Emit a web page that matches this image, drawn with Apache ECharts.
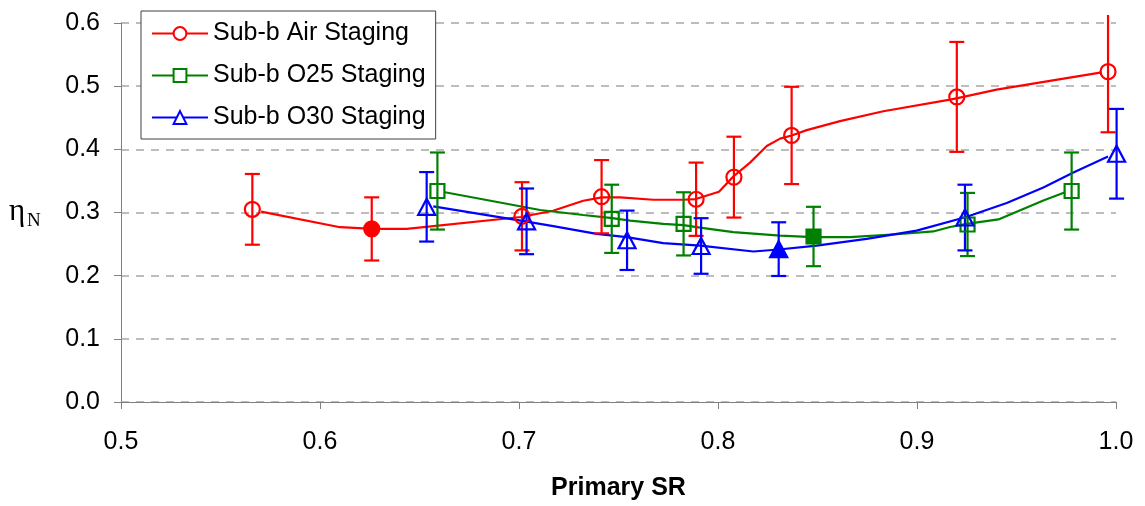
<!DOCTYPE html>
<html>
<head>
<meta charset="utf-8">
<script src="https://cdn.jsdelivr.net/npm/echarts@6/dist/echarts.min.js"></script>
<style>
html,body{margin:0;padding:0;background:#fff;}
#c{width:1145px;height:506px;}
</style>
</head>
<body>
<div id="c"></div>
<script>
// ---------- DATA ----------
const seriesNames = ['Sub-b Air Staging', 'Sub-b O25 Staging', 'Sub-b O30 Staging'];
const xTicks = [0.5, 0.6, 0.7, 0.8, 0.9, 1.0];
const yTicks = [0.0, 0.1, 0.2, 0.3, 0.4, 0.5, 0.6];

// measured points (markers) with symmetric error half-widths
const airX   = [0.566, 0.626, 0.7015, 0.7415, 0.789, 0.808, 0.837, 0.920, 0.996];
const airY   = [0.305, 0.274, 0.294, 0.325, 0.321, 0.356, 0.422, 0.483, 0.523];
const airErr = [0.056, 0.050, 0.054, 0.058, 0.058, 0.064, 0.077, 0.087, 0.096];
const airFilled = 1;

const o25X   = [0.659, 0.7466, 0.7827, 0.848, 0.9254, 0.9777];
const o25Y   = [0.334, 0.290, 0.282, 0.262, 0.281, 0.334];
const o25Err = [0.061, 0.054, 0.050, 0.047, 0.050, 0.061];
const o25Filled = 3;

const o30X   = [0.6536, 0.7038, 0.7543, 0.7915, 0.8305, 0.9241, 1.0003];
const o30Y   = [0.309, 0.286, 0.256, 0.247, 0.242, 0.292, 0.393];
const o30Err = [0.055, 0.052, 0.047, 0.044, 0.0425, 0.052, 0.071];
const o30Filled = 4;

const airCurve = [[0.5704,0.3013],[0.6101,0.2767],[0.6266,0.274],[0.6436,0.274],[0.701,0.2929],[0.7171,0.3028],[0.7323,0.3186],[0.7416,0.3239],[0.7508,0.3239],[0.7675,0.3202],[0.7826,0.3202],[0.7888,0.3213],[0.8005,0.3328],[0.8077,0.357],[0.8161,0.379],[0.8245,0.4052],[0.8312,0.4169],[0.837,0.422],[0.8446,0.4304],[0.8613,0.4446],[0.8831,0.4603],[0.9166,0.4787],[0.9204,0.481],[0.94,0.4945],[0.9928,0.5217]];
const o25Curve = [[0.6628,0.332],[0.7106,0.304],[0.7323,0.296],[0.7469,0.291],[0.7558,0.287],[0.7725,0.282],[0.7826,0.280],[0.791,0.276],[0.8077,0.269],[0.8312,0.2635],[0.8479,0.261],[0.8663,0.261],[0.8915,0.266],[0.9082,0.270],[0.9166,0.277],[0.925,0.282],[0.9409,0.289],[0.9635,0.319],[0.9744,0.332]];
const o30Curve = [[0.6569,0.3098],[0.7039,0.2855],[0.7172,0.2783],[0.739,0.2661],[0.7541,0.2609],[0.7725,0.2515],[0.791,0.2477],[0.8178,0.2383],[0.8305,0.2414],[0.8496,0.2477],[0.8747,0.2583],[0.8998,0.2713],[0.9243,0.2924],[0.9451,0.315],[0.9635,0.3397],[0.9786,0.3633],[0.996,0.3885]];

// ---------- BUILD ----------
const colors = ['#ff0000', '#008000', '#0000ff'];
const FONT = 'Liberation Sans, Arial, sans-serif';
const LW = 2.2;

function markerData(xs, ys, filled, color) {
  return xs.map((x, i) => i === filled
    ? { value: [x, ys[i]], itemStyle: { color: color } }
    : { value: [x, ys[i]] });
}
function errData(xs, ys, es) {
  return xs.map((x, i) => [x, ys[i] - es[i], ys[i] + es[i]]);
}
function errRender(color) {
  return function (params, api) {
    const x = api.value(0);
    const pLo = api.coord([x, api.value(1)]);
    const pHi = api.coord([x, api.value(2)]);
    const topLimit = params.coordSys.y - 8;
    let yTop = pHi[1], cap = true;
    if (yTop < topLimit) { yTop = topLimit; cap = false; }
    const hw = 7.5;
    const style = { stroke: color, lineWidth: LW };
    const children = [
      { type: 'line', shape: { x1: pLo[0], y1: pLo[1], x2: pLo[0], y2: yTop }, style: style },
      { type: 'line', shape: { x1: pLo[0] - hw, y1: pLo[1], x2: pLo[0] + hw, y2: pLo[1] }, style: style }
    ];
    if (cap) children.push({ type: 'line', shape: { x1: pHi[0] - hw, y1: yTop, x2: pHi[0] + hw, y2: yTop }, style: style });
    return { type: 'group', children: children };
  };
}

const groups = [
  { name: seriesNames[0], curve: airCurve, xs: airX, ys: airY, es: airErr, filled: airFilled, sym: 'circle', legendSym: 'emptyCircle', size: 15 },
  { name: seriesNames[1], curve: o25Curve, xs: o25X, ys: o25Y, es: o25Err, filled: o25Filled, sym: 'rect', legendSym: 'emptyRect', size: 14 },
  { name: seriesNames[2], curve: o30Curve, xs: o30X, ys: o30Y, es: o30Err, filled: o30Filled, sym: 'triangle', legendSym: 'emptyTriangle', size: [17, 16] }
];

const series = [];
groups.forEach((g, k) => {
  const c = colors[k];
  series.push({
    name: g.name, type: 'line', data: g.curve,
    symbol: g.legendSym, showSymbol: false, symbolSize: 14,
    lineStyle: { color: c, width: LW }, itemStyle: { color: c },
    z: 3, silent: true, clip: false
  });
  series.push({
    name: g.name + ' err', type: 'custom', data: errData(g.xs, g.ys, g.es),
    renderItem: errRender(c), encode: { x: 0, y: [1, 2] }, z: 4, silent: true, clip: false
  });
  series.push({
    name: g.name + ' pts', type: 'scatter', data: markerData(g.xs, g.ys, g.filled, c),
    symbol: g.sym, symbolSize: g.size, clip: false,
    itemStyle: { color: 'rgba(0,0,0,0)', borderColor: c, borderWidth: LW, opacity: 1 },
    z: 5, silent: true
  });
});

const option = {
  animation: false,
  backgroundColor: '#ffffff',
  grid: { left: 121, right: 29, top: 23, bottom: 102 },
  legend: {
    data: seriesNames,
    orient: 'vertical', left: 141, top: 11,
    itemWidth: 56, itemHeight: 16, itemGap: 17,
    padding: [10, 10, 9, 10],
    backgroundColor: '#ffffff', borderColor: '#404040', borderWidth: 1,
    textStyle: { fontFamily: FONT, fontSize: 25, color: '#000' },
    selectedMode: false
  },
  xAxis: {
    type: 'value', min: xTicks[0], max: xTicks[xTicks.length - 1], interval: 0.1,
    name: 'Primary SR', nameLocation: 'middle', nameGap: 74,
    nameTextStyle: { fontFamily: FONT, fontSize: 25, fontWeight: 'bold', color: '#000' },
    axisLine: { lineStyle: { color: '#808080', width: 1 } },
    axisTick: { show: true, length: 7, lineStyle: { color: '#808080' } },
    axisLabel: { fontFamily: FONT, fontSize: 25, color: '#000', margin: 28, formatter: v => v.toFixed(1) },
    splitLine: { show: false }
  },
  yAxis: {
    type: 'value', min: yTicks[0], max: yTicks[yTicks.length - 1], interval: 0.1,
    axisLine: { show: true, lineStyle: { color: '#808080', width: 1 } },
    axisTick: { show: true, length: 7, lineStyle: { color: '#808080' } },
    axisLabel: { fontFamily: FONT, fontSize: 25, color: '#000', margin: 21, formatter: v => v.toFixed(1) },
    splitLine: { show: true, lineStyle: { color: '#a8a8a8', width: 1.5, type: [8, 7] } }
  },
  graphic: [
    { type: 'text', left: 9, top: 196, style: { text: 'η', font: '31px "Liberation Serif", "DejaVu Serif", serif', fill: '#000' } },
    { type: 'text', left: 27, top: 212, style: { text: 'N', font: '19px "Liberation Serif", "DejaVu Serif", serif', fill: '#000' } }
  ],
  series: series
};

const chart = echarts.init(document.getElementById('c'), null, { renderer: 'canvas' });
chart.setOption(option);
</script>
</body>
</html>
